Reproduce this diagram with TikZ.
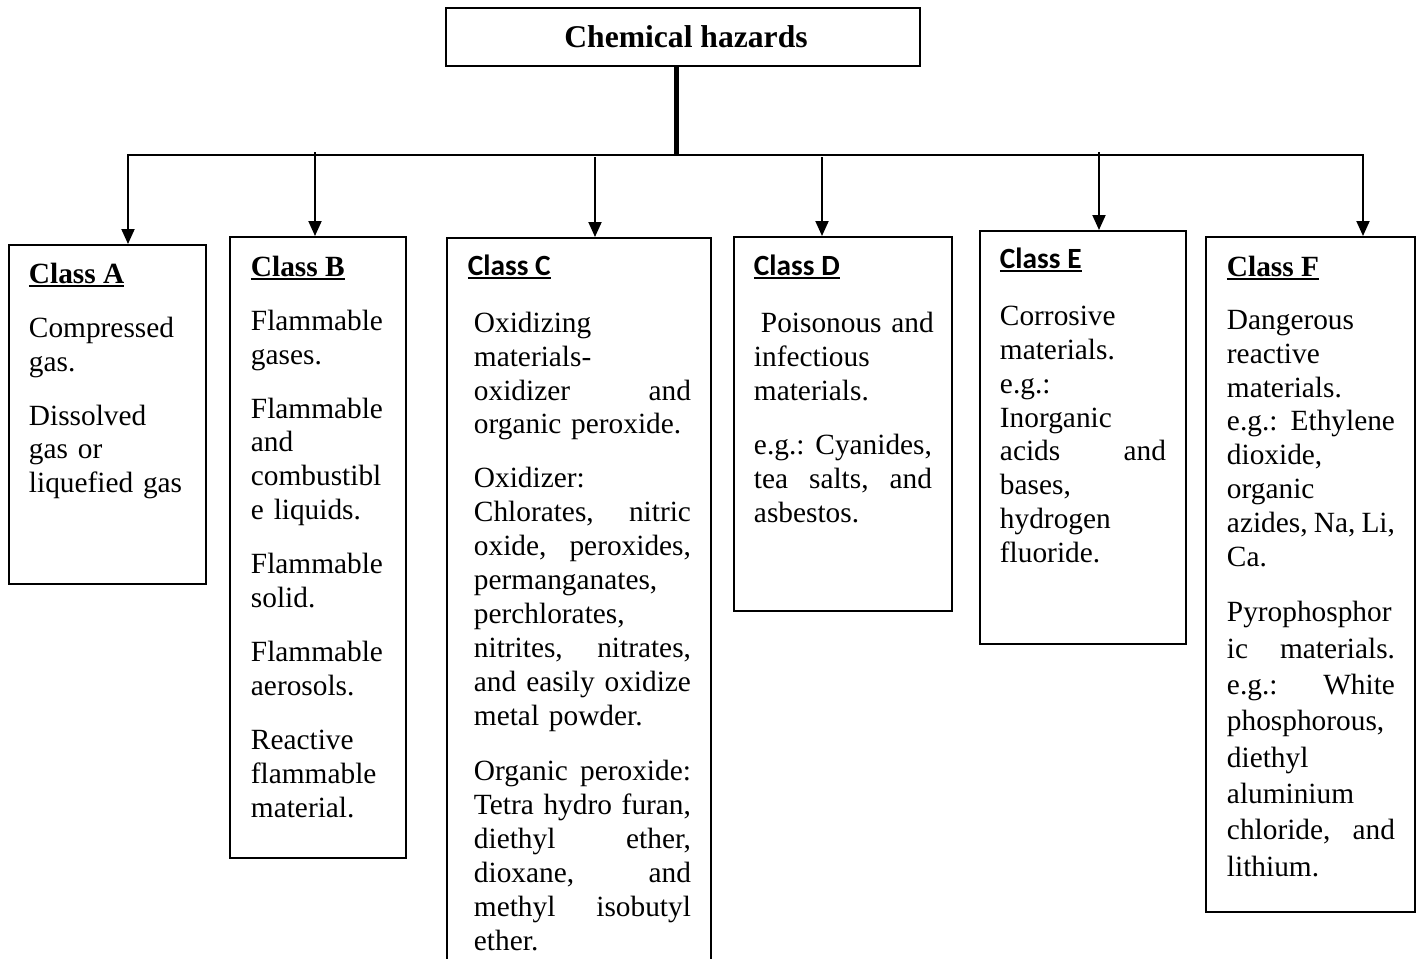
\documentclass[tikz,border=0pt]{standalone}
\usepackage{fontspec}
\setmainfont{Liberation Serif}
\newfontfamily\serifbd{Liberation Serif Bold}
\newfontfamily\calibribd{Carlito Bold}
\usepackage{tikz}
\usetikzlibrary{arrows.meta}

\newlength\pix
\setlength\pix{0.02cm}
% a line set flush to both margins
\newcommand\jl[1]{\leavevmode\hbox to \hsize{#1}}
% underlined heading
\newcommand\ulhead[1]{\setbox0=\hbox{#1}\rlap{\rule[-3.5\pix]{\wd0}{1.6\pix}}\box0}

\begin{document}
\begin{tikzpicture}[
            x = 0.02cm, y = -0.02cm, % one unit per pixel, y going down
            > = {Triangle[length=0.3cm, width=0.26cm]}, % arrow head style
            line width = 1.1pt, % line style
            box/.style = {shape=rectangle, draw=black, inner sep=0pt, anchor=north west},
            hd/.style = {inner sep=0pt, anchor=base west,
                         font=\fontsize{16.7}{19.35}\selectfont\serifbd},
            hdc/.style = {hd, font=\fontsize{16.7}{19.35}\selectfont\calibribd},
            txt/.style = {inner sep=0pt, align=left, anchor=base west,
                          font=\fontsize{16.7}{19.35}\selectfont}
        ]
\useasboundingbox (0,0) rectangle (1421,958);

\node[box, anchor=center, minimum width=474\pix, minimum height=58\pix,
      font=\fontsize{18}{21}\selectfont\serifbd] (haz) at (683,37) {\hspace*{6\pix}Chemical hazards};

\node[box, minimum width=197\pix, minimum height=339\pix] (clsA) at (8,244) {};
\node[box, minimum width=176\pix, minimum height=621\pix] (clsB) at (229,236) {};
\node[box, minimum width=264\pix, minimum height=740\pix] (clsC) at (446,237) {};
\node[box, minimum width=218\pix, minimum height=374\pix] (clsD) at (733,236) {};
\node[box, minimum width=206\pix, minimum height=413\pix] (clsE) at (979,230) {};
\node[box, minimum width=209\pix, minimum height=675\pix] (clsF) at (1205,236) {};

\node[hd] (hdA) at (28,283) {\ulhead{Class A}};
\node[hd] (hdB) at (250,276) {\ulhead{Class B}};
\node[hdc] (hdC) at (467,275) {\ulhead{Class C}};
\node[hdc] (hdD) at (753,275) {\ulhead{Class D}};
\node[hdc] (hdE) at (999,268) {\ulhead{Class E}};
\node[hd] (hdF) at (1226,276) {\ulhead{Class F}};

\node[txt, text width=157\pix] (txtA) at (28,337) {Compressed\\ gas.\\[20\pix]
  Dissolved\\ gas or\\ liquefied gas};
\node[txt, text width=135\pix] (txtB) at (250,330) {Flammable\\ gases.\\[20\pix]
  Flammable\\ and\\ combustibl\\ e liquids.\\[20\pix]
  Flammable\\ solid.\\[20\pix]
  Flammable\\ aerosols.\\[20\pix]
  Reactive\\ flammable\\ material.};
\node[txt, text width=217\pix] (txtC) at (473,332) {Oxidizing\\ materials-\\ \jl{oxidizer\hfill and}\\ organic peroxide.\\[20\pix]
  Oxidizer:\\ \jl{Chlorates,\hfill nitric}\\ \jl{oxide,\hfill peroxides,}\\ permanganates,\\ perchlorates,\\
  \jl{nitrites,\hfill nitrates,}\\ \jl{and\hfill easily\hfill oxidize}\\ metal powder.\\[21\pix]
  \jl{Organic\hfill peroxide:}\\ \jl{Tetra\hfill hydro\hfill furan,}\\ \jl{diethyl\hfill ether,}\\ \jl{dioxane,\hfill and}\\
  \jl{methyl\hfill isobutyl}\\ ether.};
\node[txt, text width=180\pix] (txtD) at (753,332) {\hspace*{7\pix}Poisonous and\\ infectious\\ materials.\\[21\pix]
  \jl{e.g.:\hfill Cyanides,\hspace*{2\pix}}\\ \jl{tea\hfill salts,\hfill and\hspace*{2\pix}}\\ asbestos.};
\node[txt, text width=166\pix] (txtE) at (999,325) {Corrosive\\ materials.\\ e.g.:\\ Inorganic\\ \jl{acids\hfill and}\\ bases,\\ hydrogen\\ fluoride.};
\node[txt, text width=168\pix] (txtF) at (1226,329) {Dangerous\\ reactive\\ materials.\\ \jl{e.g.:\hfill Ethylene}\\ dioxide,\\ organic\\
  \jl{azides,\hfill Na,\hfill Li,}\\ Ca.\\[21\pix]
  Pyrophosphor\\[2.3\pix] \jl{ic\hfill materials.}\\[2.3\pix] \jl{e.g.:\hfill White}\\[2.3\pix]
  phosphorous,\\[2.3\pix] diethyl\\[2.3\pix] aluminium\\[2.3\pix]
  \jl{chloride,\hfill and}\\[2.3\pix] lithium.};

\coordinate (hub) at (676,155);
\coordinate (busA) at (128,155);
\coordinate (busF) at (1363,155);
\coordinate (arrB) at (315,152);
\coordinate (arrC) at (595,157);
\coordinate (arrD) at (822,157);
\coordinate (arrE) at (1099,152);

 \draw [line width=5\pix] (hub |- haz.south) -- (hub);
 \draw [<->] (busA |- clsA.north) -- (busA) -- (busF) -- (busF |- clsF.north);
 \path [->] (arrB) edge (arrB |- clsB.north);
 \path [->] (arrC) edge (arrC |- clsC.north);
 \path [->] (arrD) edge (arrD |- clsD.north);
 \path [->] (arrE) edge (arrE |- clsE.north);
\end{tikzpicture}
\end{document}
